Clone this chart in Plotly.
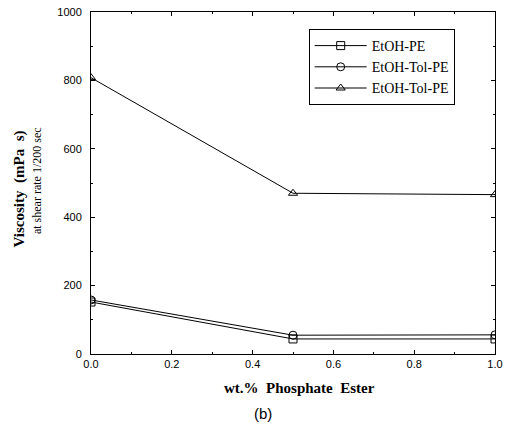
import plotly.graph_objects as go

x_vals = [0.0, 0.5, 1.0]
etoh_pe = [152, 44, 44]
etoh_tol_pe = [158, 55, 56]
etoh_tol_pe2 = [808, 470, 466]
series_names = ["EtOH-PE", "EtOH-Tol-PE", "EtOH-Tol-PE"]
x_ticks = [0.0, 0.2, 0.4, 0.6, 0.8, 1.0]
x_tick_text = ["0.0", "0.2", "0.4", "0.6", "0.8", "1.0"]
y_ticks = [0, 200, 400, 600, 800, 1000]

fig = go.Figure()
symbols = ["square-open", "circle-open", "triangle-up-open"]
for name, ys, sym in zip(series_names, [etoh_pe, etoh_tol_pe, etoh_tol_pe2], symbols):
    fig.add_trace(go.Scatter(
        x=x_vals, y=ys, name=name, mode="lines+markers",
        line=dict(color="black", width=1),
        marker=dict(symbol=sym, size=8, color="black", line=dict(color="black", width=1)),
    ))

axis_common = dict(
    showline=True, linecolor="black", linewidth=1, mirror="ticks",
    ticks="inside", ticklen=4, tickcolor="black", showgrid=False, zeroline=False,
    tickfont=dict(family="Liberation Sans", size=11, color="black"),
    ticklabeloverflow="allow",
)
fig.update_xaxes(range=[0, 1.0], tickvals=x_ticks, ticktext=x_tick_text,
                 minor=dict(ticks="inside", ticklen=2, dtick=0.1, tickcolor="black"),
                 ticklabelstandoff=0, **axis_common)
fig.update_yaxes(range=[0, 1000], tickvals=y_ticks,
                 minor=dict(ticks="inside", ticklen=2, dtick=100, tickcolor="black"),
                 ticklabelstandoff=6, **axis_common)

L, R, T, B, W, H = 91, 6, 12, 79, 509, 433
pw = W - L - R
ph = H - T - B

def px(xp):
    return (xp - L) / pw

def py(yp):
    return (H - B - yp) / ph

def ann(text, x, y, size, family, angle=0):
    return dict(text=text, x=px(x), y=py(y), xref="paper", yref="paper",
                xanchor="center", yanchor="middle", showarrow=False, textangle=angle,
                font=dict(family=family, size=size, color="black"))

fig.update_layout(
    width=W, height=H,
    margin=dict(l=L, r=R, t=T, b=B),
    paper_bgcolor="white", plot_bgcolor="white",
    showlegend=True,
    legend=dict(x=px(313), y=py(29), xanchor="left", yanchor="top",
                bordercolor="black", borderwidth=1, bgcolor="white",
                font=dict(family="Liberation Serif", size=14, color="black"),
                tracegroupgap=0, itemwidth=52),
    annotations=[
        ann("<b>Viscosity  (mPa  s)</b>", 18, 189, 15, "Liberation Serif", -90),
        ann("at shear rate 1/200 sec", 36, 181, 12, "Liberation Serif", -90),
        ann("<b>wt.%  Phosphate  Ester</b>", 304, 388, 15, "Liberation Serif"),
        ann("(b)", 266, 413, 15, "Liberation Sans"),
    ],
)

fig.write_html("out.html")
